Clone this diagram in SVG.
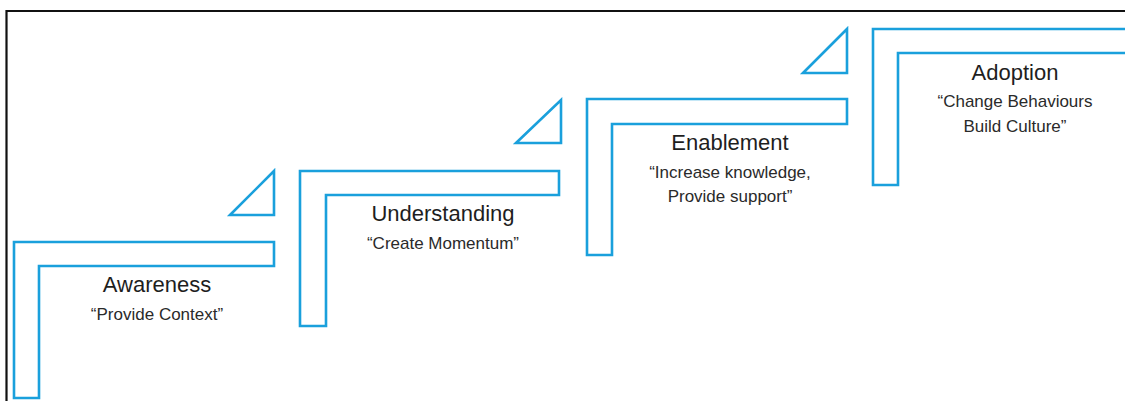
<svg xmlns="http://www.w3.org/2000/svg" width="1125" height="401" viewBox="0 0 1125 401">
<style>
.step{fill:#ffffff;stroke:#1aa0dc;stroke-width:2.6;stroke-linejoin:miter}
.tri{fill:#ffffff;stroke:#1aa0dc;stroke-width:2.6;stroke-linejoin:miter}
.title{font-family:"Liberation Sans",Arial,sans-serif;font-size:22px;fill:#1e1e1e;text-anchor:middle}
.sub{font-family:"Liberation Sans",Arial,sans-serif;font-size:17px;fill:#2a2a2a;text-anchor:middle}
</style>
<rect x="0" y="0" width="1125" height="401" fill="#ffffff"/>
<path d="M6.5 401 V11 H1125" fill="none" stroke="#111111" stroke-width="2.2"/>
<g id="connectors">
<polygon class="tri" points="230,215 274,171 274,215"/>
<polygon class="tri" points="516,143 561,100 561,143"/>
<polygon class="tri" points="803,73 847,29 847,73"/>
</g>
<g id="awareness">
<polygon class="step" points="14,398 14,242 274,242 274,266 39,266 39,398"/>
<text class="title" x="157" y="292">Awareness</text>
<text class="sub" x="157" y="320">“Provide Context”</text>
</g>
<g id="understanding">
<polygon class="step" points="300,326 300,171 559,171 559,195 326,195 326,326"/>
<text class="title" x="443" y="221">Understanding</text>
<text class="sub" x="443" y="249">“Create Momentum”</text>
</g>
<g id="enablement">
<polygon class="step" points="587,255 587,99 847,99 847,124 612,124 612,255"/>
<text class="title" x="730" y="150">Enablement</text>
<text class="sub" x="730" y="178">“Increase knowledge,</text>
<text class="sub" x="730" y="202">Provide support”</text>
</g>
<g id="adoption">
<polygon class="step" points="873,185 873,29 1130,29 1130,53 898,53 898,185"/>
<text class="title" x="1015" y="80">Adoption</text>
<text class="sub" x="1015" y="107">“Change Behaviours</text>
<text class="sub" x="1015" y="132">Build Culture”</text>
</g>
</svg>
